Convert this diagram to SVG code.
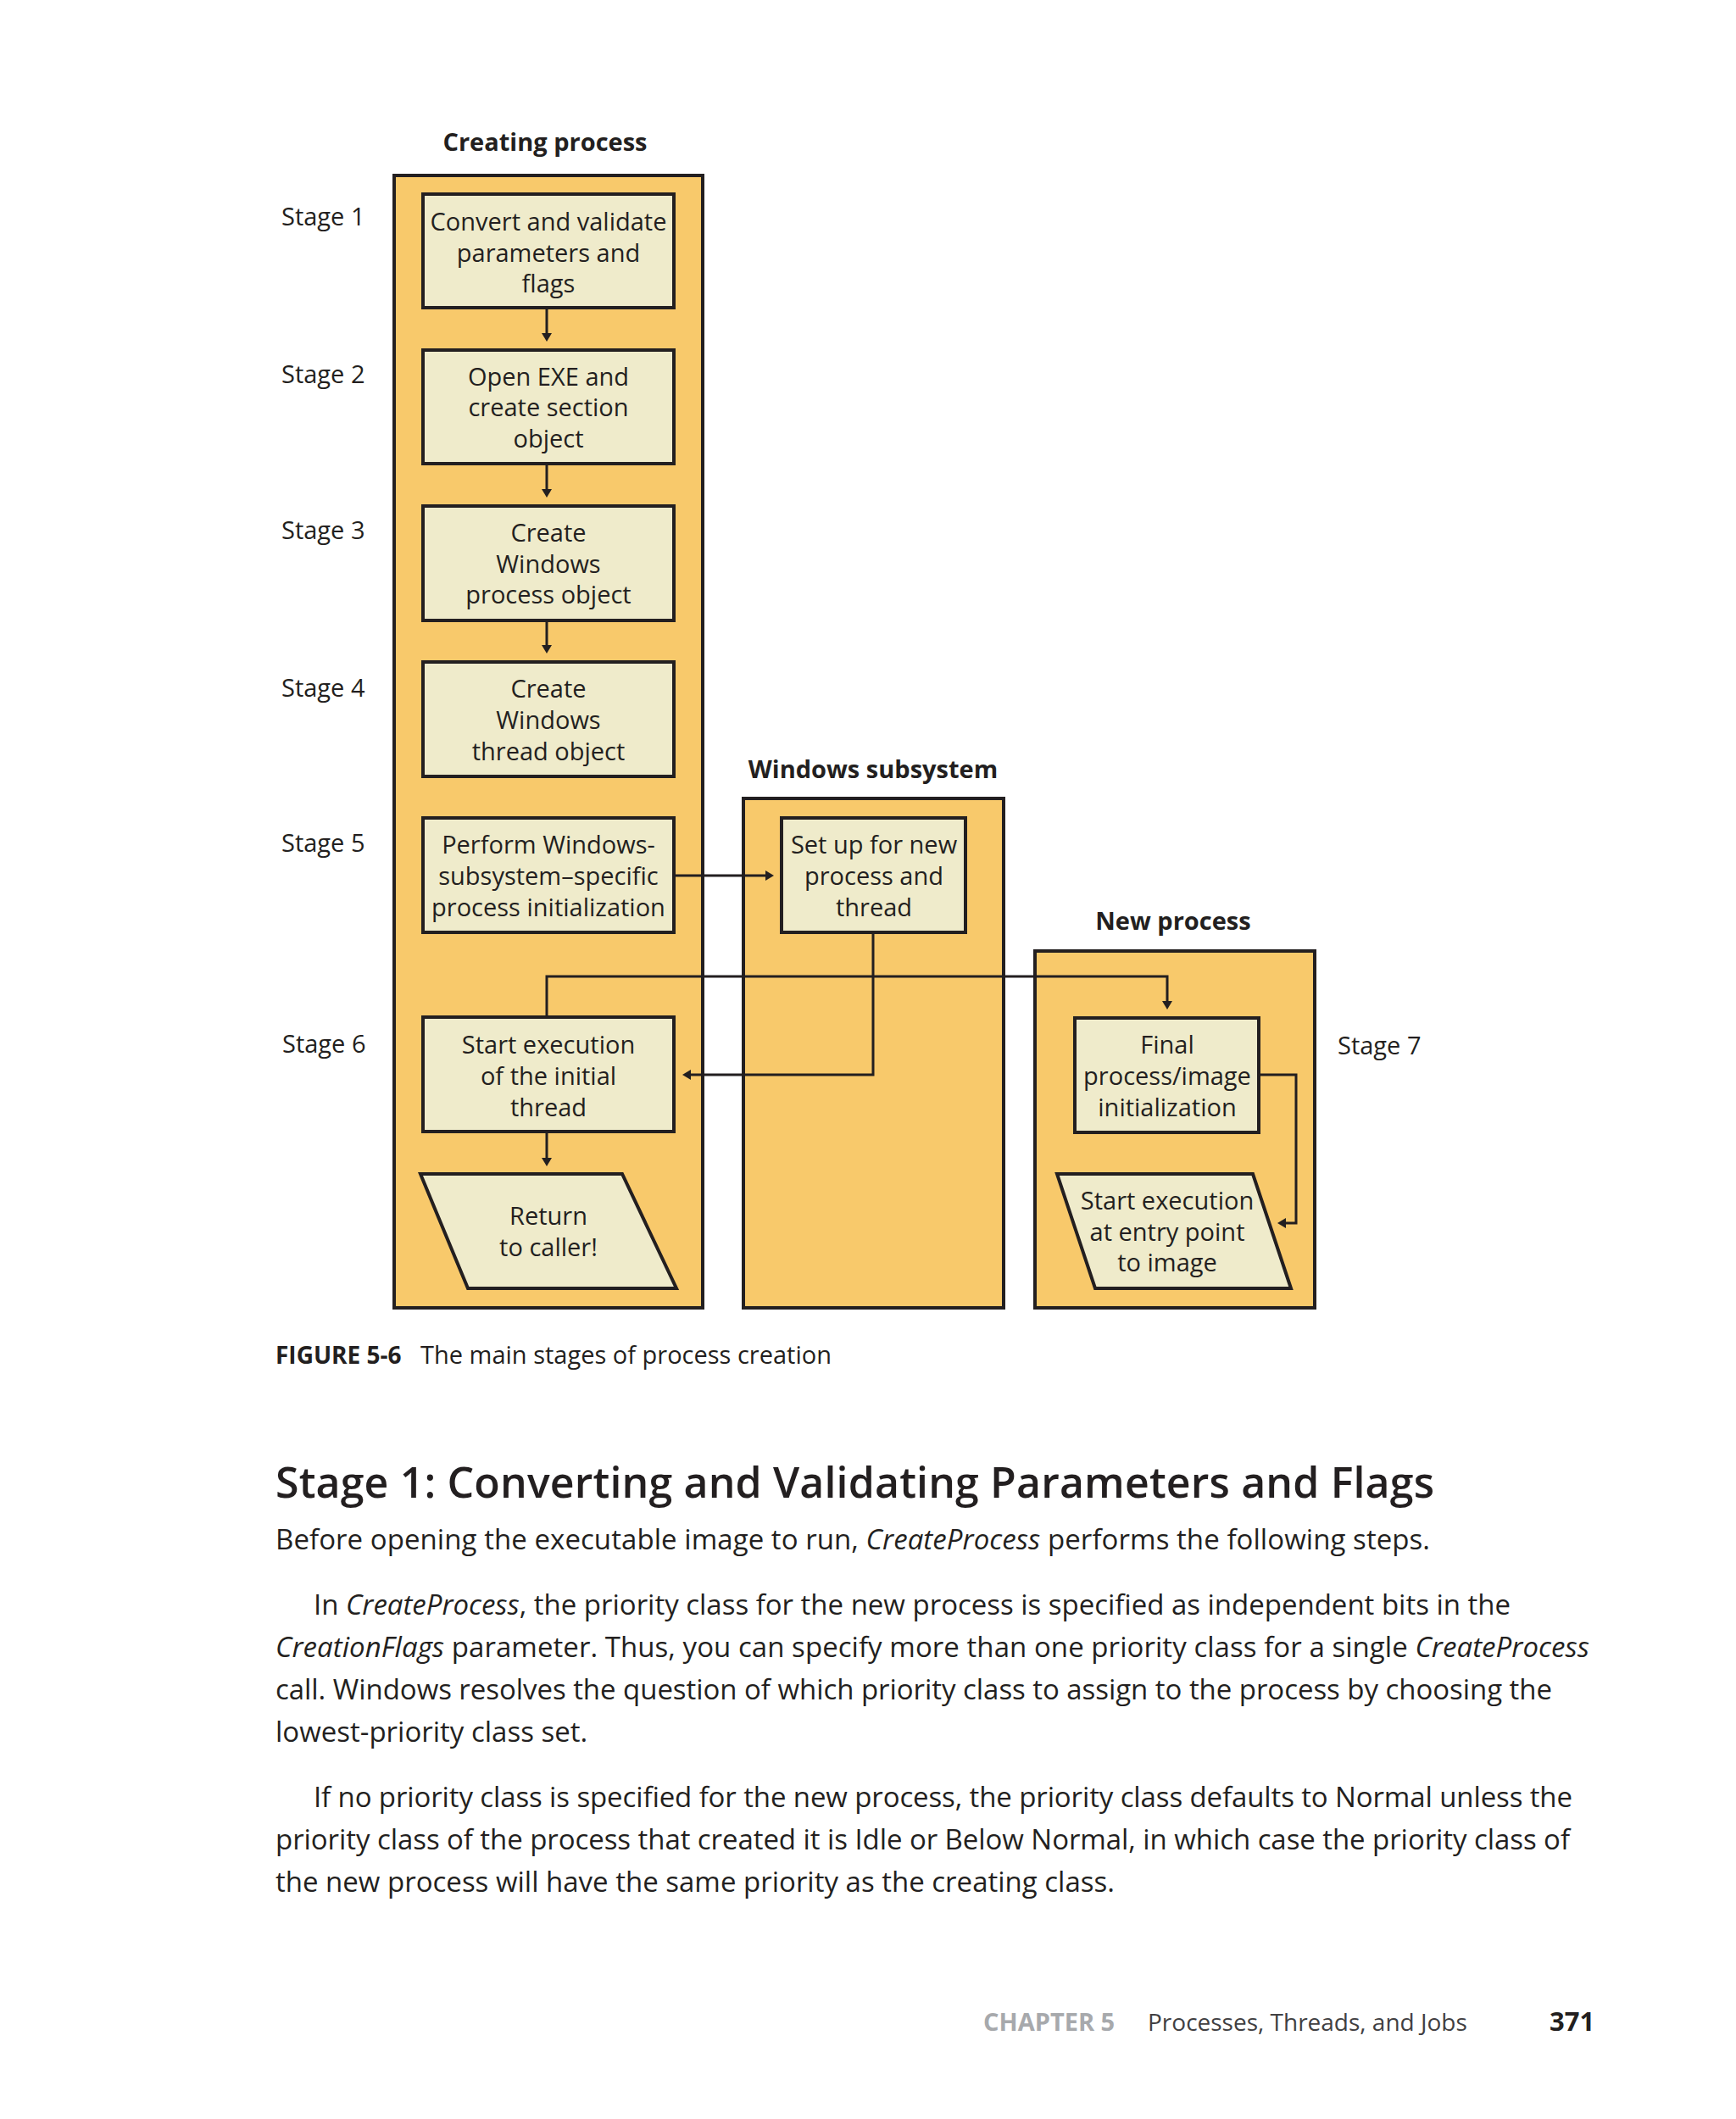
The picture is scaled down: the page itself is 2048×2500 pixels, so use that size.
<svg xmlns="http://www.w3.org/2000/svg" width="2048" height="2500" viewBox="0 0 2048 2500">
<defs>
<style>
text{font-family:'Open Sans','Noto Sans',sans-serif;fill:#231F20}
.lane{fill:#F8C96B;stroke:#231F20;stroke-width:4}
.box{fill:#EFEBCB;stroke:#231F20;stroke-width:4}
.bt{font-size:29px;text-anchor:middle}
.stg{font-size:29px}
.ttl{font-size:29px;font-weight:bold;text-anchor:middle}
.con{fill:none;stroke:#231F20;stroke-width:3;marker-end:url(#ah)}
.body{font-size:33px}
</style>
<marker id="ah" markerWidth="12" markerHeight="12" refX="5" refY="6" orient="auto" markerUnits="userSpaceOnUse">
<path d="M0,0 L10,6 L0,12 z" fill="#231F20"/>
</marker>
</defs>
<rect width="2048" height="2500" fill="#FFFFFF"/>

<g id="lane-creating">
<rect class="lane" x="465" y="207" width="364" height="1336"/>
<text class="ttl" x="643" y="178">Creating process</text>
</g>
<g id="lane-subsystem">
<rect class="lane" x="877" y="942" width="307" height="601"/>
<text class="ttl" x="1030" y="918">Windows subsystem</text>
</g>
<g id="lane-newprocess">
<rect class="lane" x="1221" y="1122" width="330" height="421"/>
<text class="ttl" x="1384" y="1097">New process</text>
</g>

<g id="stages">
<text class="stg" x="332" y="266">Stage 1</text>
<text class="stg" x="332" y="452">Stage 2</text>
<text class="stg" x="332" y="636">Stage 3</text>
<text class="stg" x="332" y="822">Stage 4</text>
<text class="stg" x="332" y="1005">Stage 5</text>
<text class="stg" x="333" y="1242">Stage 6</text>
<text class="stg" x="1578" y="1244">Stage 7</text>
</g>

<g id="connectors">
<path class="con" d="M645,365 L645,398"/>
<path class="con" d="M645,549 L645,582"/>
<path class="con" d="M645,734 L645,766"/>
<path class="con" d="M797,1033 L908,1033"/>
<path class="con" d="M1030,1102 L1030,1268 L810,1268"/>
<path class="con" d="M645,1198 L645,1152 L1377,1152 L1377,1186"/>
<path class="con" d="M645,1337 L645,1371"/>
<path class="con" d="M1487,1268 L1529,1268 L1529,1443 L1512,1443"/>
</g>

<g id="n1">
<rect class="box" x="499" y="229" width="296" height="134"/>
<text class="bt" x="647" y="272">Convert and validate</text>
<text class="bt" x="647" y="309">parameters and</text>
<text class="bt" x="647" y="345">flags</text>
</g>
<g id="n2">
<rect class="box" x="499" y="413" width="296" height="134"/>
<text class="bt" x="647" y="455">Open EXE and</text>
<text class="bt" x="647" y="491">create section</text>
<text class="bt" x="647" y="528">object</text>
</g>
<g id="n3">
<rect class="box" x="499" y="597" width="296" height="135"/>
<text class="bt" x="647" y="639">Create</text>
<text class="bt" x="647" y="676">Windows</text>
<text class="bt" x="647" y="712">process object</text>
</g>
<g id="n4">
<rect class="box" x="499" y="781" width="296" height="135"/>
<text class="bt" x="647" y="823">Create</text>
<text class="bt" x="647" y="860">Windows</text>
<text class="bt" x="647" y="897">thread object</text>
</g>
<g id="n5">
<rect class="box" x="499" y="965" width="296" height="135"/>
<text class="bt" x="647" y="1007">Perform Windows-</text>
<text class="bt" x="647" y="1044">subsystem–specific</text>
<text class="bt" x="647" y="1081">process initialization</text>
</g>
<g id="n-setup">
<rect class="box" x="922" y="965" width="217" height="135"/>
<text class="bt" x="1031" y="1007">Set up for new</text>
<text class="bt" x="1031" y="1044">process and</text>
<text class="bt" x="1031" y="1081">thread</text>
</g>
<g id="n6">
<rect class="box" x="499" y="1200" width="296" height="135"/>
<text class="bt" x="647" y="1243">Start execution</text>
<text class="bt" x="647" y="1280">of the initial</text>
<text class="bt" x="647" y="1317">thread</text>
</g>
<g id="n-return">
<polygon class="box" points="496,1385 734,1385 798,1520 552,1520"/>
<text class="bt" x="647" y="1445">Return</text>
<text class="bt" x="647" y="1482">to caller!</text>
</g>
<g id="n-final">
<rect class="box" x="1268" y="1201" width="217" height="135"/>
<text class="bt" x="1377" y="1243">Final</text>
<text class="bt" x="1377" y="1280">process/image</text>
<text class="bt" x="1377" y="1317">initialization</text>
</g>
<g id="n-entry">
<polygon class="box" points="1247,1385 1478,1385 1523,1520 1292,1520"/>
<text class="bt" x="1377" y="1427">Start execution</text>
<text class="bt" x="1377" y="1464">at entry point</text>
<text class="bt" x="1377" y="1500">to image</text>
</g>

<g id="caption">
<text x="325" y="1609" style="font-size:28px;font-weight:bold">FIGURE 5-6</text>
<text x="496" y="1609" style="font-size:29px">The main stages of process creation</text>
</g>

<g id="page-text">
<text x="325" y="1767" style="font-size:50px;font-weight:600" textLength="1367">Stage 1: Converting and Validating Parameters and Flags</text>
<text class="body" x="325" y="1828" textLength="1362">Before opening the executable image to run, <tspan font-style="italic">CreateProcess</tspan> performs the following steps.</text>
<text class="body" x="370" y="1905" textLength="1412">In <tspan font-style="italic">CreateProcess</tspan>, the priority class for the new process is specified as independent bits in the</text>
<text class="body" x="325" y="1955" textLength="1550"><tspan font-style="italic">CreationFlags</tspan> parameter. Thus, you can specify more than one priority class for a single <tspan font-style="italic">CreateProcess</tspan></text>
<text class="body" x="325" y="2005" textLength="1506">call. Windows resolves the question of which priority class to assign to the process by choosing the</text>
<text class="body" x="325" y="2055">lowest-priority class set.</text>
<text class="body" x="370" y="2132" textLength="1485">If no priority class is specified for the new process, the priority class defaults to Normal unless the</text>
<text class="body" x="325" y="2182" textLength="1527">priority class of the process that created it is Idle or Below Normal, in which case the priority class of</text>
<text class="body" x="325" y="2232">the new process will have the same priority as the creating class.</text>
</g>

<g id="footer">
<text x="1160" y="2396" style="font-size:29px;font-weight:bold;fill:#A7A9AC">CHAPTER 5</text>
<text x="1354" y="2396" style="font-size:28px;fill:#414042">Processes, Threads, and Jobs</text>
<text x="1828" y="2396" style="font-size:31px;font-weight:bold">371</text>
</g>
</svg>
